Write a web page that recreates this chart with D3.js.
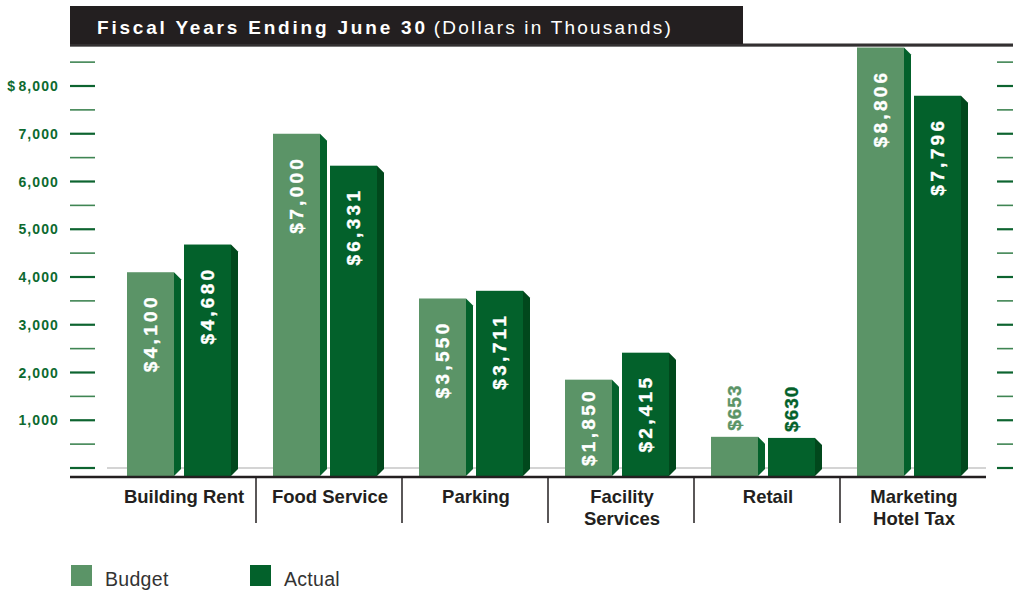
<!DOCTYPE html>
<html>
<head>
<meta charset="utf-8">
<script src="https://cdn.jsdelivr.net/npm/d3@7"></script>
<style>
  html, body { margin: 0; padding: 0; background: #fff; }
  svg { display: block; font-family: "Liberation Sans", Arial, Helvetica, sans-serif; }
</style>
</head>
<body>
<svg id="chart" width="1013" height="595"></svg>
<script>
// Revenue by source, fiscal years ending June 30 (dollars in thousands)
const categories = [["Building Rent"], ["Food Service"], ["Parking"], ["Facility", "Services"], ["Retail"], ["Marketing", "Hotel Tax"]];
const series = ["Budget", "Actual"];
const budget = [4100, 7000, 3550, 1850, 653, 8806];
const actual = [4680, 6331, 3711, 2415, 630, 7796];
const yTickValues = [0, 500, 1000, 1500, 2000, 2500, 3000, 3500, 4000, 4500, 5000, 5500, 6000, 6500, 7000, 7500, 8000, 8500];
const yTickLabels = { 1000: "1,000", 2000: "2,000", 3000: "3,000", 4000: "4,000", 5000: "5,000", 6000: "6,000", 7000: "7,000", 8000: "$\u200A8,000" };
// Categories whose value labels sit above short bars instead of inside them
const labelAbove = ["Retail"];

const colors = {
  Budget: { front: "#5b9467", side: "#03612b" },
  Actual: { front: "#03612b", side: "#01481c" }
};

const svg = d3.select("#chart");
const catKeys = categories.map(c => c.join(" "));

const x0 = d3.scaleBand().domain(catKeys).range([110, 986]).padding(0);
const x1 = d3.scaleBand().domain(series).range([17, 121]).paddingInner(10 / 57).paddingOuter(0);
const y = d3.scaleLinear().domain([0, 8000]).range([468, 86]);
const depth = 7;
const base = y(0) + 8;

// Title banner
svg.append("line").attr("x1", 70).attr("x2", 1013).attr("y1", 46.5).attr("y2", 46.5)
  .attr("stroke", "#bdbdbd").attr("stroke-width", 1);
svg.append("line").attr("x1", 70).attr("x2", 1013).attr("y1", 45).attr("y2", 45)
  .attr("stroke", "#333031").attr("stroke-width", 3);
svg.append("rect").attr("x", 70).attr("y", 6).attr("width", 673).attr("height", 38)
  .attr("fill", "#231f20");
const title = svg.append("text").attr("x", 97).attr("y", 34).attr("fill", "#fff").attr("font-size", 19);
title.append("tspan").attr("font-weight", "bold").attr("letter-spacing", 2.8).text("Fiscal Years Ending June 30");
title.append("tspan").attr("font-weight", "normal").attr("letter-spacing", 2.2).attr("dx", 6).text("(Dollars in Thousands)");

// Tick marks on both sides
const major = v => v % 1000 === 0;
[[70, 95], [997, 1013]].forEach(([a, b]) => {
  svg.append("g").selectAll("line").data(yTickValues).join("line")
    .attr("x1", a).attr("x2", b)
    .attr("y1", d => y(d)).attr("y2", d => y(d))
    .attr("stroke", d => major(d) ? "#0d6430" : "#3f8553")
    .attr("stroke-width", d => major(d) ? 2.2 : 1.6);
});

// Left tick labels
svg.append("g").selectAll("text").data(yTickValues.filter(v => yTickLabels[v])).join("text")
  .attr("x", 59).attr("y", d => y(d)).attr("dy", "0.36em")
  .attr("text-anchor", "end").attr("font-weight", "bold").attr("font-size", 14)
  .attr("letter-spacing", 1.1)
  .attr("fill", "#0d6a30").text(d => yTickLabels[d]);

// Zero reference line
svg.append("line").attr("x1", 107).attr("x2", 986).attr("y1", y(0)).attr("y2", y(0))
  .attr("stroke", "#d4d4d4").attr("stroke-width", 2);

// Bars with bevelled side faces
const rows = [];
catKeys.forEach((c, i) => {
  rows.push({ cat: c, s: "Budget", v: budget[i] });
  rows.push({ cat: c, s: "Actual", v: actual[i] });
});

const bars = svg.append("g").selectAll("g").data(rows).join("g")
  .attr("transform", d => `translate(${x0(d.cat) + x1(d.s)},0)`);

const bw = x1.bandwidth();
bars.append("path")
  .attr("d", d => {
    const t = y(d.v);
    return `M${bw},${t} L${bw + depth},${t + depth} L${bw + depth},${base - depth} L${bw},${base} Z`;
  })
  .attr("fill", d => colors[d.s].side);
bars.append("rect")
  .attr("x", 0).attr("y", d => y(d.v)).attr("width", bw).attr("height", d => base - y(d.v))
  .attr("fill", d => colors[d.s].front);

// Value labels, rotated; inside labels are pulled up when the bar is short
const fmt = d3.format("$,");
bars.append("text")
  .attr("text-anchor", d => labelAbove.includes(d.cat) ? "start" : "end")
  .attr("dominant-baseline", "central")
  .attr("font-weight", "bold")
  .attr("font-size", 19)
  .attr("letter-spacing", d => labelAbove.includes(d.cat) ? 1 : 3.3)
  .attr("fill", d => labelAbove.includes(d.cat) ? colors[d.s].front : "#fff")
  .attr("stroke", d => labelAbove.includes(d.cat) ? colors[d.s].front : "#fff")
  .attr("stroke-width", 0.35)
  .text(d => fmt(d.v))
  .attr("transform", function (d) {
    let ty;
    if (labelAbove.includes(d.cat)) {
      ty = y(d.v) - 6;
    } else {
      const len = this.getComputedTextLength();
      ty = Math.min(y(d.v) + 22, base - 10 - len);
    }
    return `translate(${bw / 2},${ty}) rotate(-90)`;
  });

// Category axis
svg.append("line").attr("x1", 70).attr("x2", 986).attr("y1", 477).attr("y2", 477)
  .attr("stroke", "#231f20").attr("stroke-width", 2.5);
svg.append("g").selectAll("line").data(catKeys.slice(1)).join("line")
  .attr("x1", d => x0(d)).attr("x2", d => x0(d)).attr("y1", 477).attr("y2", 523)
  .attr("stroke", "#231f20").attr("stroke-width", 1.5);

const catLabels = svg.append("g").selectAll("text").data(categories).join("text")
  .attr("x", (d, i) => x0(catKeys[i]) + x0.bandwidth() / 2 + 1)
  .attr("y", 503)
  .attr("text-anchor", "middle").attr("font-weight", "bold").attr("font-size", 18.5)
  .attr("fill", "#231f20");
catLabels.selectAll("tspan").data(d => d).join("tspan")
  .attr("x", function () { return d3.select(this.parentNode).attr("x"); })
  .attr("dy", (d, i) => i === 0 ? 0 : 22)
  .text(d => d);

// Legend
const legend = svg.append("g").selectAll("g").data(series).join("g")
  .attr("transform", (d, i) => `translate(${71 + i * 179},565)`);
legend.append("rect").attr("width", 21).attr("height", 21).attr("fill", d => colors[d].front);
legend.append("text").attr("x", 34).attr("y", 21).attr("font-size", 19.5)
  .attr("letter-spacing", 0.3)
  .attr("fill", "#333").text(d => d);
</script>
</body>
</html>
